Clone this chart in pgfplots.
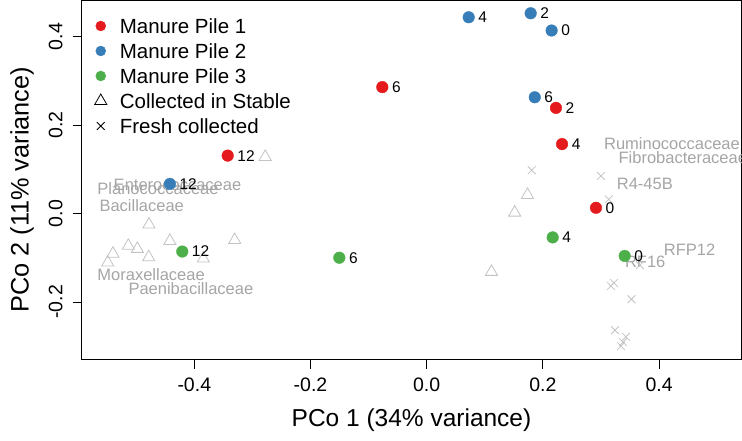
\documentclass[border=0pt]{standalone}
\usepackage{pgfplots}
\pgfplotsset{compat=1.18}
\usepackage{fontspec}
\setmainfont{Liberation Sans}
\definecolor{c1}{HTML}{E41A1C}
\definecolor{c2}{HTML}{377EB8}
\definecolor{c3}{HTML}{4DAF4A}
\definecolor{markgray}{RGB}{195,195,195}
\definecolor{textgray}{RGB}{165,165,165}
\pgfplotstableread{
x y lab
-0.0764 0.286 6
-0.3425 0.131 12
0.2225 0.239 2
0.233 0.157 4
0.2914 0.013 0
}\pileone
\pgfplotstableread{
x y lab
0.0723 0.444 4
0.179 0.453 2
0.215 0.414 0
0.186 0.263 6
-0.442 0.067 12
}\piletwo
\pgfplotstableread{
x y lab
-0.4207 -0.086 12
-0.1504 -0.100 6
0.2169 -0.054 4
0.3408 -0.096 0
}\pilethree
\pgfplotstableread{
x y
-0.478 -0.025
-0.5136 -0.073
-0.498 -0.080
-0.540 -0.091
-0.549 -0.111
-0.4785 -0.099
-0.442 -0.062
-0.3845 -0.102
-0.3305 -0.060
-0.278 0.128
0.1735 0.042
0.1515 0.002
0.1115 -0.132
}\stable
\pgfplotstableread{
x y
0.1807 0.098
0.300 0.085
0.3133 0.032
0.367 -0.117
0.317 -0.164
0.3224 -0.157
0.3525 -0.194
0.3241 -0.264
0.343 -0.279
0.338 -0.291
0.3344 -0.300
}\fresh
\begin{document}
\begin{tikzpicture}
\useasboundingbox (-82pt,-81pt) rectangle (660pt,360pt);
\begin{axis}[
  at={(0pt,0pt)}, anchor=south west,
  scale only axis, width=659pt, height=359pt,
  xmin=-0.5933, xmax=0.541, ymin=-0.3314, ymax=0.4808,
  axis line style={line width=1pt},
  tick align=outside, major tick length=9pt,
  tick style={black, line width=0.8pt},
  xtick={-0.4,-0.2,0,0.2,0.4}, ytick={-0.2,0,0.2,0.4},
  xtick pos=bottom, ytick pos=left,
  /pgf/number format/fixed, /pgf/number format/fixed zerofill,
  /pgf/number format/precision=1, /pgf/number format/assume math mode=true,
  ticklabel style={font=\fontsize{19.5}{20}\selectfont},
  xticklabel style={yshift=-5pt},
  yticklabel style={xshift=-7pt, rotate=90, anchor=south},
  xlabel={PCo 1 (34\% variance)}, ylabel={PCo 2 (11\% variance)},
  every axis x label/.style={at={(axis description cs:0.5,0)}, anchor=center, yshift=-60pt, font=\fontsize{24.5}{26}\selectfont},
  every axis y label/.style={at={(axis description cs:0,0.474)}, xshift=-60pt, rotate=90, anchor=center, font=\fontsize{25.3}{27}\selectfont},
  legend cell align=left,
  legend style={draw=none, fill=none, at={(axis description cs:0,1)}, anchor=north west,
    xshift=12.5pt, yshift=-17.3pt, inner sep=0pt, row sep=10pt, column sep=13pt,
    font=\fontsize{20.5}{22}\selectfont,
    nodes={inner sep=0pt, text height=15pt, text depth=0pt}},
]
\addlegendimage{only marks, mark=*, c1, mark size=5pt}
\addlegendentry{Manure Pile 1}
\addlegendimage{only marks, mark=*, c2, mark size=5pt}
\addlegendentry{Manure Pile 2}
\addlegendimage{only marks, mark=*, c3, mark size=5pt}
\addlegendentry{Manure Pile 3}
\addlegendimage{only marks, mark=triangle, black, mark size=7pt, line width=0.8pt}
\addlegendentry{Collected in Stable}
\addlegendimage{only marks, mark=x, black, mark size=5.5pt, line width=0.8pt}
\addlegendentry{Fresh collected}

\addplot[forget plot, only marks, mark=triangle, mark size=7pt, markgray, line width=0.8pt] table[x=x,y=y] {\stable};
\addplot[forget plot, only marks, mark=x, mark size=5.5pt, markgray, line width=0.8pt] table[x=x,y=y] {\fresh};

\node[anchor=west, inner sep=0pt, textgray, font=\fontsize{16.5}{17}\selectfont] at (axis cs:0.305,0.159) {Ruminococcaceae};
\node[anchor=west, inner sep=0pt, textgray, font=\fontsize{16.5}{17}\selectfont] at (axis cs:0.330,0.127) {Fibrobacteraceae};
\node[anchor=west, inner sep=0pt, textgray, font=\fontsize{16.5}{17}\selectfont] at (axis cs:0.327,0.068) {R4-45B};
\node[anchor=west, inner sep=0pt, textgray, font=\fontsize{16.5}{17}\selectfont] at (axis cs:0.408,-0.081) {RFP12};
\node[anchor=west, inner sep=0pt, textgray, font=\fontsize{16.5}{17}\selectfont] at (axis cs:0.341,-0.109) {RF16};
\node[anchor=west, inner sep=0pt, textgray, font=\fontsize{16.5}{17}\selectfont] at (axis cs:-0.539,0.064) {Enterococcaceae};
\node[anchor=west, inner sep=0pt, textgray, font=\fontsize{16.5}{17}\selectfont] at (axis cs:-0.567,0.057) {Planococcaceae};
\node[anchor=west, inner sep=0pt, textgray, font=\fontsize{16.5}{17}\selectfont] at (axis cs:-0.5635,0.019) {Bacillaceae};
\node[anchor=west, inner sep=0pt, textgray, font=\fontsize{16.5}{17}\selectfont] at (axis cs:-0.567,-0.1376) {Moraxellaceae};
\node[anchor=west, inner sep=0pt, textgray, font=\fontsize{16.5}{17}\selectfont] at (axis cs:-0.5136,-0.169) {Paenibacillaceae};

\addplot[forget plot, only marks, mark=*, mark size=5.8pt, c1,
  nodes near coords, point meta=explicit symbolic,
  every node near coord/.style={anchor=west, xshift=9.5pt, inner sep=0pt, black, font=\fontsize{15.5}{16}\selectfont}]
  table[x=x,y=y,meta=lab] {\pileone};
\addplot[forget plot, only marks, mark=*, mark size=5.8pt, c2,
  nodes near coords, point meta=explicit symbolic,
  every node near coord/.style={anchor=west, xshift=9.5pt, inner sep=0pt, black, font=\fontsize{15.5}{16}\selectfont}]
  table[x=x,y=y,meta=lab] {\piletwo};
\addplot[forget plot, only marks, mark=*, mark size=5.8pt, c3,
  nodes near coords, point meta=explicit symbolic,
  every node near coord/.style={anchor=west, xshift=9.5pt, inner sep=0pt, black, font=\fontsize{15.5}{16}\selectfont}]
  table[x=x,y=y,meta=lab] {\pilethree};
\end{axis}
\end{tikzpicture}
\end{document}
